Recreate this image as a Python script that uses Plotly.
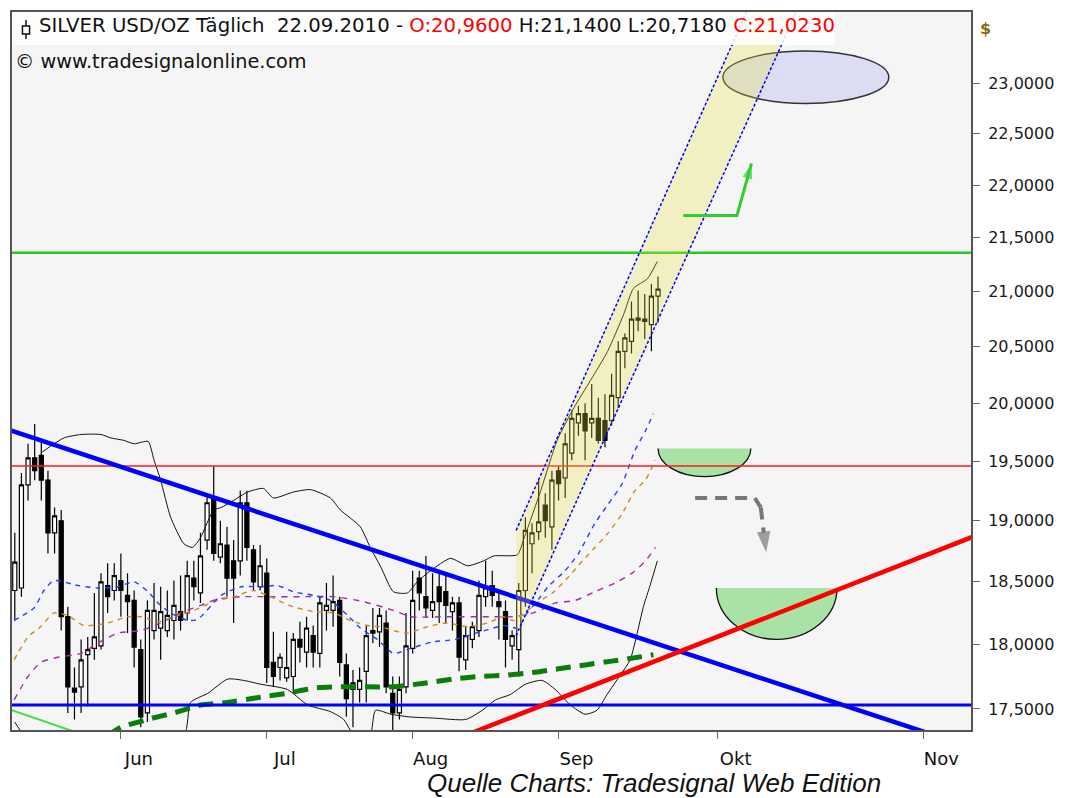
import numpy as np
import pandas as pd
import plotly.graph_objects as go

# ---------------- data ----------------
first_day = "2010-05-10"
last_day = "2010-09-22"

open_ = [18.43, 18.45, 19.30, 19.53, 19.55, 19.34, 18.90, 19.00, 18.22, 17.66,
         17.67, 17.92, 17.97, 17.99, 18.47, 18.43, 18.51, 18.39, 18.35, 17.96,
         17.47, 18.11, 18.13, 18.11, 18.19, 18.26, 18.25, 18.53, 18.41, 18.84,
         19.19, 18.70, 18.80, 18.67, 18.67, 19.15, 18.76, 18.46, 18.57, 17.86,
         17.82, 17.74, 17.75, 18.04, 17.94, 18.07, 17.93, 18.27, 18.27, 18.35,
         17.84, 17.65, 17.65, 17.79, 18.11, 18.10, 18.17, 17.62, 17.47, 17.67,
         17.97, 18.53, 18.38, 18.27, 18.46, 18.42, 18.26, 18.33, 17.88, 18.04,
         18.11, 18.38, 18.47, 18.34, 18.26, 17.99, 17.96, 18.43, 18.81, 18.91,
         19.13, 18.95, 19.42, 19.36, 19.57, 19.83, 19.91, 19.83, 19.87, 19.85,
         19.85, 20.05, 20.46, 20.55, 20.76, 20.75, 20.70, 20.96]
high = [18.90, 19.40, 19.65, 19.82, 19.68, 19.42, 19.11, 19.09, 18.30, 17.82,
        18.04, 18.06, 18.41, 18.57, 18.65, 18.65, 18.73, 18.57, 18.43, 18.04,
        18.35, 18.49, 18.46, 18.43, 18.51, 18.55, 18.67, 18.67, 18.90, 19.21,
        19.46, 19.00, 18.95, 18.84, 19.25, 19.25, 18.80, 18.80, 18.69, 18.10,
        17.93, 18.10, 18.09, 18.18, 18.22, 18.15, 18.38, 18.49, 18.55, 18.38,
        17.93, 17.80, 17.82, 18.15, 18.29, 18.29, 18.27, 17.75, 17.75, 18.25,
        18.59, 18.59, 18.71, 18.57, 18.59, 18.57, 18.38, 18.38, 18.14, 18.18,
        18.51, 18.67, 18.59, 18.41, 18.35, 18.11, 18.49, 19.03, 18.98, 19.34,
        19.23, 19.42, 19.46, 19.74, 19.94, 19.98, 20.00, 20.17, 20.05, 20.08,
        20.26, 20.55, 20.62, 20.91, 21.01, 20.98, 21.07, 21.14]
low = [18.19, 18.38, 19.17, 19.34, 19.17, 18.73, 18.73, 18.11, 17.47, 17.42,
       17.47, 17.52, 17.88, 17.96, 18.25, 18.35, 18.22, 18.09, 17.82, 17.36,
       17.40, 18.04, 17.88, 18.06, 18.04, 18.11, 18.19, 18.35, 18.33, 18.76,
       18.67, 18.65, 18.38, 18.17, 18.55, 18.67, 18.43, 18.43, 17.70, 17.67,
       17.72, 17.71, 17.62, 17.86, 17.82, 17.82, 17.82, 18.11, 18.14, 17.75,
       17.44, 17.36, 17.55, 17.55, 18.01, 17.98, 17.62, 17.34, 17.42, 17.62,
       17.93, 18.27, 18.21, 18.21, 18.17, 18.17, 18.11, 17.79, 17.80, 17.97,
       18.06, 18.30, 18.30, 18.04, 17.82, 17.88, 17.75, 18.30, 18.57, 18.84,
       18.86, 18.76, 19.17, 19.19, 19.51, 19.72, 19.51, 19.70, 19.65, 19.62,
       19.81, 19.96, 20.31, 20.44, 20.64, 20.57, 20.46, 20.718]
close = [18.66, 19.30, 19.53, 19.42, 19.34, 18.90, 19.04, 18.22, 17.67, 17.63,
         17.88, 17.96, 18.06, 18.50, 18.38, 18.55, 18.43, 18.34, 17.98, 17.44,
         18.27, 18.27, 18.26, 18.23, 18.31, 18.19, 18.55, 18.46, 18.71, 19.15,
         18.73, 18.81, 18.53, 18.53, 19.15, 18.78, 18.50, 18.63, 17.82, 17.75,
         17.90, 17.82, 18.04, 17.98, 18.13, 17.94, 18.33, 18.31, 18.34, 17.86,
         17.58, 17.70, 17.72, 18.07, 18.09, 18.23, 17.67, 17.47, 17.65, 17.99,
         18.35, 18.41, 18.29, 18.34, 18.34, 18.31, 18.33, 17.90, 18.07, 18.14,
         18.39, 18.45, 18.39, 18.30, 18.04, 18.07, 18.43, 18.92, 18.90, 18.99,
         19.00, 19.34, 19.31, 19.65, 19.87, 19.91, 19.76, 19.87, 19.68, 19.68,
         20.07, 20.46, 20.58, 20.75, 20.74, 20.73, 20.96, 21.023]

# indicator readings (x = bar number, y = price)
ma_fast_x = [-0.1, 2.9, 4.4, 5.9, 9.5, 12.5, 15.5, 18.0, 20.1, 21.6, 23.5, 26.1, 27.6, 31.1,
             34.1, 37.1, 39.6, 42.0, 45.1, 47.6, 50.2, 52.1, 54.7, 57.1, 59.7, 63.0, 66.4,
             70.2, 73.9, 75.8, 77.3, 79.3, 80.4, 83.0, 85.0, 87.5, 89.5, 91.6, 93.5, 95.1, 96.3]
ma_fast_y = [18.19, 18.29, 18.43, 18.51, 18.47, 18.45, 18.46, 18.50, 18.42, 18.33, 18.25, 18.19,
             18.20, 18.39, 18.46, 18.46, 18.47, 18.42, 18.39, 18.35, 18.23, 18.13, 18.04, 17.93,
             17.97, 18.02, 18.04, 18.10, 18.15, 18.13, 18.25, 18.38, 18.46, 18.59, 18.73, 18.98,
             19.14, 19.31, 19.59, 19.76, 19.91]
ma_mid_x = [-0.1, 2.0, 3.9, 5.9, 8.0, 10.4, 14.0, 17.0, 19.0, 21.6, 24.0, 27.0, 30.0, 33.0,
            36.0, 38.6, 40.5, 42.6, 45.1, 48.1, 50.6, 53.2, 55.2, 57.1, 59.2, 62.2, 65.2, 68.3,
            71.3, 73.7, 75.2, 77.3, 79.3, 81.1, 83.5, 85.6, 87.5, 89.5, 91.6, 93.5, 95.1, 96.6]
ma_mid_y = [17.88, 18.06, 18.14, 18.25, 18.23, 18.15, 18.17, 18.22, 18.22, 18.18, 18.22, 18.27,
            18.34, 18.38, 18.43, 18.38, 18.33, 18.29, 18.26, 18.25, 18.19, 18.15, 18.14, 18.11,
            18.09, 18.14, 18.17, 18.14, 18.17, 18.22, 18.19, 18.27, 18.35, 18.41, 18.54, 18.67,
            18.78, 18.90, 19.06, 19.25, 19.34, 19.51]
ma_slow_x = [-0.1, 2.0, 3.9, 6.5, 10.0, 12.5, 15.5, 19.0, 22.0, 25.0, 28.0, 30.6, 34.1, 38.1,
             43.1, 48.1, 52.6, 57.1, 59.7, 65.2, 72.2, 75.2, 78.2, 80.0, 81.5, 84.5, 87.5, 90.5,
             93.1, 95.1, 96.6]
ma_slow_y = [17.57, 17.75, 17.86, 17.90, 17.93, 18.01, 18.09, 18.11, 18.17, 18.25, 18.31, 18.36,
             18.38, 18.38, 18.38, 18.38, 18.34, 18.27, 18.22, 18.22, 18.22, 18.22, 18.25, 18.29,
             18.33, 18.35, 18.42, 18.49, 18.57, 18.67, 18.78]
ma_long_x = [14, 16, 20, 24, 28, 32, 37, 41, 45, 49, 53, 57, 62, 66, 70, 74, 78, 82, 86, 90, 94, 96.3]
ma_long_y = [17.30, 17.36, 17.42, 17.47, 17.53, 17.55, 17.59, 17.62, 17.66, 17.67, 17.67, 17.67,
             17.70, 17.73, 17.75, 17.76, 17.78, 17.81, 17.84, 17.87, 17.90, 17.92]
bb_upper_x = [3.9, 7.4, 10.0, 13.0, 14.5, 16.4, 18.0, 20.1, 21.0, 22.0, 23.5, 25.5, 26.8, 28.0,
              30.0, 31.1, 33.0, 35.1, 37.5, 39.0, 42.0, 44.6, 47.6, 49.1, 52.1, 53.6, 55.2, 57.1,
              59.2, 60.7, 62.7, 65.7, 68.3, 70.7, 72.2, 75.8, 76.7, 79.3, 81.8, 84.3, 86.8, 89.4,
              91.8, 93.3, 95.4, 96.9]
bb_upper_y = [19.57, 19.70, 19.73, 19.73, 19.70, 19.68, 19.65, 19.67, 19.51, 19.34, 19.03, 18.81,
              18.78, 18.86, 19.09, 19.11, 19.17, 19.24, 19.27, 19.19, 19.24, 19.26, 19.19, 19.09,
              18.95, 18.78, 18.62, 18.42, 18.41, 18.50, 18.59, 18.69, 18.63, 18.67, 18.71, 18.72,
              18.84, 19.25, 19.68, 19.96, 20.20, 20.46, 20.79, 21.03, 21.12, 21.28]
bb_lower_x = [0.0, 1.5, 12.0, 25.5, 26.5, 29.1, 32.1, 34.5, 37.1, 41.1, 44.2, 47.6, 49.6, 50.6,
              52.1, 53.6, 54.4, 56.7, 59.4, 63.4, 68.0, 70.5, 72.5, 74.7, 77.0, 79.5, 81.5, 83.8,
              86.0, 87.8, 89.3, 91.3, 92.8, 94.8, 95.8, 96.9]
bb_lower_y = [17.40, 17.30, 17.10, 17.30, 17.55, 17.62, 17.73, 17.72, 17.69, 17.65, 17.53, 17.48,
              17.42, 17.34, 17.28, 17.30, 17.49, 17.46, 17.44, 17.43, 17.42, 17.49, 17.57, 17.61,
              17.69, 17.72, 17.65, 17.53, 17.46, 17.49, 17.61, 17.76, 17.88, 18.30, 18.47, 18.67]

# drawn lines / objects (x = bar number, future = calendar days after last bar)
level_green = 21.36
level_red = 19.46
level_blue = 17.53
blue_trend_x, blue_trend_y = [-2, 146], [19.79, 17.18]
red_trend_x, red_trend_y = [68, 146], [17.30, 18.90]
lightgreen_x, lightgreen_y = [-1, 10], [17.50, 17.31]
chan_upper_x, chan_upper_y = [75.6, 115], [18.92, 24.46]
chan_lower_x, chan_lower_y = [75.6, 120], [18.07, 24.06]
ellipse_x, ellipse_y = [106.8, 131.8], [22.80, 23.33]
cup_small_x, cup_small_y = [97.0, 111.0], [19.61, 19.37]
cup_big_x, cup_big_y = [105.8, 124.0], [18.45, 18.04]
arrow_up_x, arrow_up_y = [100.8, 108.9, 111.1], [21.71, 21.71, 22.21]
arrow_down_x, arrow_down_y = [102.6, 111.6, 112.5, 113.0, 113.3], [19.19, 19.19, 19.11, 18.88, 18.74]

month_starts = ["2010-06-01", "2010-07-01", "2010-08-01", "2010-09-01", "2010-10-01", "2010-11-01"]
month_labels = ["Jun", "Jul", "Aug", "Sep", "Okt", "Nov"]
ytick_vals = [17.5, 18.0, 18.5, 19.0, 19.5, 20.0, 20.5, 21.0, 21.5, 22.0, 22.5, 23.0]

# ---------------- helpers ----------------
trading_days = pd.bdate_range(first_day, last_day)
bar_x = list(range(len(trading_days)))


def pos(d):
    d = pd.Timestamp(d)
    last = pd.Timestamp(last_day)
    if d <= last:
        return int(np.busday_count(np.datetime64(first_day), np.datetime64(d.date())))
    return len(trading_days) - 1 + (d - last).days


def de(v):
    return f"{v:.4f}".replace(".", ",")


def bowl_path(xs, ys, closed):
    xl, xr = xs
    top, bottom = ys
    k = 0.5523
    cx, rx = (xl + xr) / 2, (xr - xl) / 2
    lt, lb = np.log10(top), np.log10(bottom)
    ym = 10 ** (lt + k * (lb - lt))
    p = (f"M {xl},{top} C {xl},{ym} {cx - k * rx},{bottom} {cx},{bottom} "
         f"C {cx + k * rx},{bottom} {xr},{ym} {xr},{top}")
    return p + (" Z" if closed else "")


XR = [-0.42, 144.2]
YR = [np.log10(17.34), np.log10(23.73)]

fig = go.Figure()

fig.add_trace(go.Candlestick(
    x=bar_x, open=open_, high=high, low=low, close=close,
    increasing=dict(line=dict(color="black", width=1.2), fillcolor="white"),
    decreasing=dict(line=dict(color="black", width=1.2), fillcolor="black"),
    whiskerwidth=0, showlegend=False, hoverinfo="skip"))


def line(x, y, color, width, dash="solid", shape="linear"):
    fig.add_trace(go.Scatter(x=x, y=y, mode="lines", hoverinfo="skip", showlegend=False,
                             line=dict(color=color, width=width, dash=dash, shape=shape,
                                       smoothing=0.6 if shape == "spline" else None)))


line(bb_upper_x, bb_upper_y, "#111111", 1, shape="spline")
line(bb_lower_x, bb_lower_y, "#111111", 1, shape="spline")
line(ma_slow_x, ma_slow_y, "#9b329b", 1.4, "6px,6px", "spline")
line(ma_mid_x, ma_mid_y, "#c98a1e", 1.4, "5px,5px", "spline")
line(ma_fast_x, ma_fast_y, "#2a3cff", 1.4, "5px,5px", "spline")
line(ma_long_x, ma_long_y, "#0a7d0a", 5, "15px,9px", "spline")
line(lightgreen_x, lightgreen_y, "#44dd44", 2)

line([XR[0] - 3, XR[1] + 3], [level_green] * 2, "#2ec52e", 2.5)
line([XR[0] - 3, XR[1] + 3], [level_red] * 2, "#ff1a1a", 1.5)
line([XR[0] - 3, XR[1] + 3], [level_blue] * 2, "#0000ff", 3)
line(blue_trend_x, blue_trend_y, "#0000ff", 4.5)
line(red_trend_x, red_trend_y, "#ff0000", 4.5)

# trend channel
fig.add_trace(go.Scatter(
    x=chan_upper_x + chan_lower_x[::-1], y=chan_upper_y + chan_lower_y[::-1],
    mode="lines", fill="toself", fillcolor="rgba(236,228,60,0.27)",
    line=dict(width=0), hoverinfo="skip", showlegend=False))
line(chan_upper_x, chan_upper_y, "#0000ff", 1.5, "3px,2px")
line(chan_lower_x, chan_lower_y, "#0000ff", 1.5, "3px,2px")

# arrows
fig.add_trace(go.Scatter(
    x=arrow_up_x, y=arrow_up_y, mode="lines+markers", hoverinfo="skip", showlegend=False,
    line=dict(color="#33cc33", width=3),
    marker=dict(symbol=["circle", "circle", "arrow"], size=[0, 0, 16], color="#33cc33",
                angleref="previous", line=dict(width=0))))
fig.add_trace(go.Scatter(
    x=arrow_down_x, y=arrow_down_y, mode="lines+markers", hoverinfo="skip", showlegend=False,
    line=dict(color="#777777", width=4, dash="12px,8px"),
    marker=dict(symbol=["circle"] * 4 + ["arrow"], size=[0] * 4 + [22], color="#777777",
                angleref="previous", line=dict(width=0))))

shapes = [
    dict(type="circle", xref="x", yref="y", x0=ellipse_x[0], x1=ellipse_x[1],
         y0=ellipse_y[0], y1=ellipse_y[1], fillcolor="#dcdcf3",
         line=dict(color="#333333", width=1.5), layer="below"),
    dict(type="path", xref="x", yref="y", path=bowl_path(cup_small_x, cup_small_y, True),
         fillcolor="#a8e2a4", line=dict(width=0), layer="below"),
    dict(type="path", xref="x", yref="y", path=bowl_path(cup_small_x, cup_small_y, False),
         fillcolor="rgba(0,0,0,0)", line=dict(color="#111111", width=1.3), layer="below"),
    dict(type="path", xref="x", yref="y", path=bowl_path(cup_big_x, cup_big_y, True),
         fillcolor="#a8e2a4", line=dict(width=0), layer="below"),
    dict(type="path", xref="x", yref="y", path=bowl_path(cup_big_x, cup_big_y, False),
         fillcolor="rgba(0,0,0,0)", line=dict(color="#111111", width=1.3), layer="below"),
    # header box and symbol icon
    dict(type="rect", xref="paper", yref="paper", x0=0, x1=0.858, y0=0.9542, y1=1,
         fillcolor="rgba(255,255,255,0.85)", line=dict(width=0), layer="above"),
    dict(type="line", xref="paper", yref="paper", x0=0.0146, x1=0.0146, y0=0.9625, y1=0.9889,
         line=dict(color="#111111", width=1.5), layer="above"),
    dict(type="rect", xref="paper", yref="paper", x0=0.0109, x1=0.0183, y0=0.9694, y1=0.9806,
         fillcolor="white", line=dict(color="#111111", width=1.5), layer="above"),
]

title = (f"SILVER USD/OZ Täglich  {pd.Timestamp(last_day):%d.%m.%Y} - "
         f"<span style='color:#ff0000'>O:{de(open_[-1])}</span> H:{de(high[-1])} "
         f"L:{de(low[-1])} <span style='color:#ff0000'>C:{de(close[-1])}</span>")

annotations = [
    dict(text=title, xref="paper", yref="paper", x=0.026, y=0.9806, xanchor="left",
         yanchor="middle", showarrow=False, font=dict(family="DejaVu Sans", size=19.7, color="#111111")),
    dict(text="© www.tradesignalonline.com", xref="paper", yref="paper", x=0.001, y=0.9306,
         xanchor="left", yanchor="middle", showarrow=False,
         font=dict(family="DejaVu Sans", size=19.3, color="#111111")),
    dict(text="<b>$</b>", xref="paper", yref="paper", x=1.0156, y=0.9764, xanchor="center",
         yanchor="middle", showarrow=False, font=dict(family="DejaVu Sans", size=16, color="#8a6a10")),
    dict(text="<i>Quelle Charts: Tradesignal Web Edition</i>", xref="paper", yref="paper",
         x=0.669, y=-0.0736, xanchor="center", yanchor="middle", showarrow=False,
         font=dict(family="Liberation Sans", size=26, color="#111111")),
]

# the page body adds an 8px offset; the figure is sized so the plot lands where the reference has it
fig.update_layout(
    width=1062, height=790, margin=dict(l=3, r=99, t=2, b=68),
    paper_bgcolor="white", plot_bgcolor="#f5f5f5", showlegend=False,
    boxgap=0.12, shapes=shapes, annotations=annotations,
    xaxis=dict(range=XR, showgrid=False, zeroline=False, showline=True, mirror=True,
               linecolor="#555555", linewidth=2, ticks="outside", ticklen=7, tickcolor="#666666",
               tickvals=[pos(d) for d in month_starts], ticktext=month_labels,
               ticklabelshift=18, ticklabelstandoff=4,
               tickfont=dict(family="DejaVu Sans", size=18, color="#111111"),
               rangeslider=dict(visible=False)),
    yaxis=dict(type="log", range=YR, side="right", showgrid=False, zeroline=False,
               showline=True, mirror=True, linecolor="#555555", linewidth=2,
               ticks="outside", ticklen=7, tickcolor="#666666", ticklabelstandoff=5,
               tickvals=ytick_vals, ticktext=[de(v) for v in ytick_vals],
               tickfont=dict(family="DejaVu Sans", size=16, color="#1a1a1a")),
)

fig.write_html("out.html")
